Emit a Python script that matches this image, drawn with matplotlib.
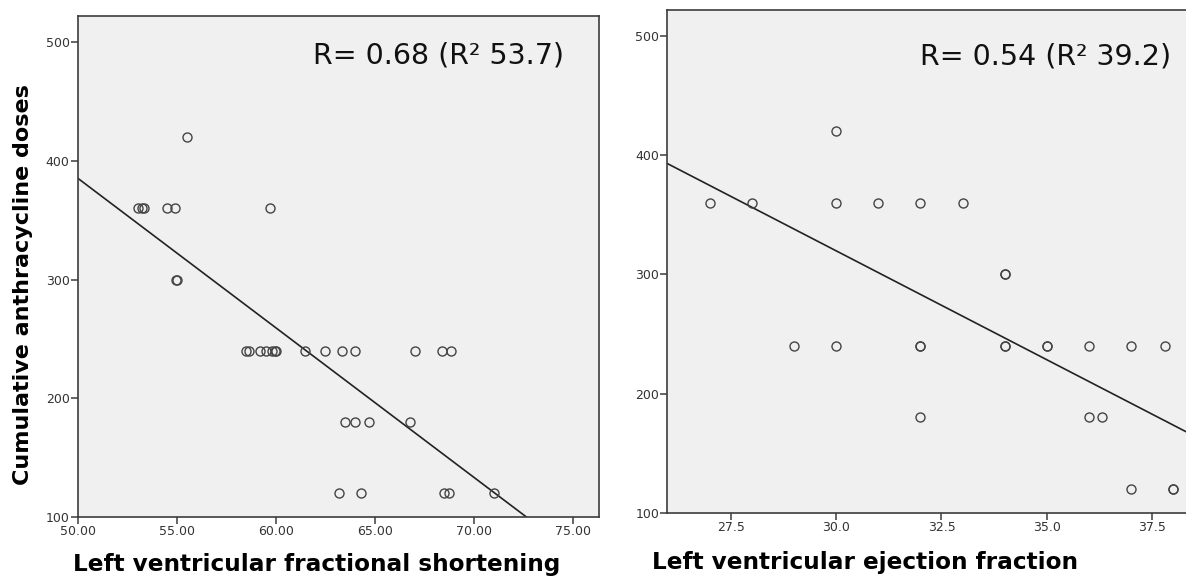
import matplotlib
matplotlib.use("Agg")
import matplotlib.pyplot as plt
import numpy as np

# left panel: fractional shortening vs cumulative dose
fs_x = [53.02, 53.21, 53.31, 54.47, 54.89, 59.69, 55.49, 54.97, 55.0,
        58.49, 58.62, 59.2, 59.49, 59.78, 59.92, 60.01, 61.46, 62.49, 63.3, 64.0, 66.99, 68.38, 68.83,
        63.47, 64.0, 64.69, 66.78,
        63.17, 64.29, 68.48, 68.71, 70.99]
fs_y = [360, 360, 360, 360, 360, 360, 420, 300, 300,
        240, 240, 240, 240, 240, 240, 240, 240, 240, 240, 240, 240, 240, 240,
        180, 180, 180, 180,
        120, 120, 120, 120, 120]
fs_fit = (385.2, -12.6)   # value at x=50, slope
fs_text = "R= 0.68 (R\u00b2 53.7)"

# right panel: ejection fraction vs cumulative dose
ef_x = [27.0, 28.0, 30.0, 31.0, 32.0, 33.0, 30.0, 34.0, 34.0,
        29.0, 30.0, 32.0, 32.0, 34.0, 34.0, 35.0, 35.0, 36.0, 37.0, 37.8,
        32.0, 36.0, 36.3,
        37.0, 38.0, 38.0]
ef_y = [360, 360, 360, 360, 360, 360, 420, 300, 300,
        240, 240, 240, 240, 240, 240, 240, 240, 240, 240, 240,
        180, 180, 180,
        120, 120, 120]
ef_fit = (392.7, -18.26)  # value at x=26, slope
ef_text = "R= 0.54 (R\u00b2 39.2)"

fig = plt.figure(figsize=(11.86, 5.76), dpi=100)
ax1 = fig.add_axes([0.0658, 0.1024, 0.4393, 0.8698])
ax2 = fig.add_axes([0.5628, 0.1094, 0.4372, 0.8724])

bg = "#f0f0f0"
edge = "#3c3c3c"


def style(ax):
    ax.set_facecolor(bg)
    for s in ax.spines.values():
        s.set_color(edge)
        s.set_linewidth(1.2)
    ax.tick_params(direction="out", length=5, width=1.1, color=edge,
                   labelsize=9, labelcolor="#333333", pad=1)
    ax.set_yticks([100, 200, 300, 400, 500])


# left
style(ax1)
ax1.set_xlim(50, 76.3)
ax1.set_ylim(100, 522)
ax1.set_xticks([50, 55, 60, 65, 70, 75])
ax1.set_xticklabels(["%.2f" % v for v in [50, 55, 60, 65, 70, 75]])
xs = np.array([50, 76.3])
ax1.plot(xs, fs_fit[0] + fs_fit[1] * (xs - 50), color="#222222", lw=1.2)
ax1.plot(fs_x, fs_y, "o", mfc="none", mec="#444444", ms=6.5, mew=1.0)
ax1.text(0.933, 0.922, fs_text, transform=ax1.transAxes, ha="right", va="center",
         fontsize=20.5, color="#111111")
ax1.set_xlabel("Left ventricular fractional shortening", fontsize=16.7, fontweight="bold")
ax1.xaxis.label.set_verticalalignment("center")
ax1.xaxis.set_label_coords(0.459, -0.094)
ax1.set_ylabel("Cumulative anthracycline doses", fontsize=16, fontweight="bold")
ax1.yaxis.set_label_coords(-0.087, 0.463)

# right
style(ax2)
ax2.spines["right"].set_visible(False)
ax2.set_xlim(26, 38.3)
ax2.set_ylim(100, 521)
ax2.set_xticks([27.5, 30, 32.5, 35, 37.5])
ax2.set_xticklabels(["%.1f" % v for v in [27.5, 30, 32.5, 35, 37.5]])
xs = np.array([26, 38.3])
ax2.plot(xs, ef_fit[0] + ef_fit[1] * (xs - 26), color="#222222", lw=1.2)
ax2.plot(ef_x, ef_y, "o", mfc="none", mec="#444444", ms=6.5, mew=1.0)
ax2.text(0.972, 0.909, ef_text, transform=ax2.transAxes, ha="right", va="center",
         fontsize=20.5, color="#111111")
ax2.set_xlabel("Left ventricular ejection fraction", fontsize=16.7, fontweight="bold")
ax2.xaxis.label.set_verticalalignment("center")
ax2.xaxis.set_label_coords(0.38, -0.098)

fig.savefig("out.png", dpi=100)
